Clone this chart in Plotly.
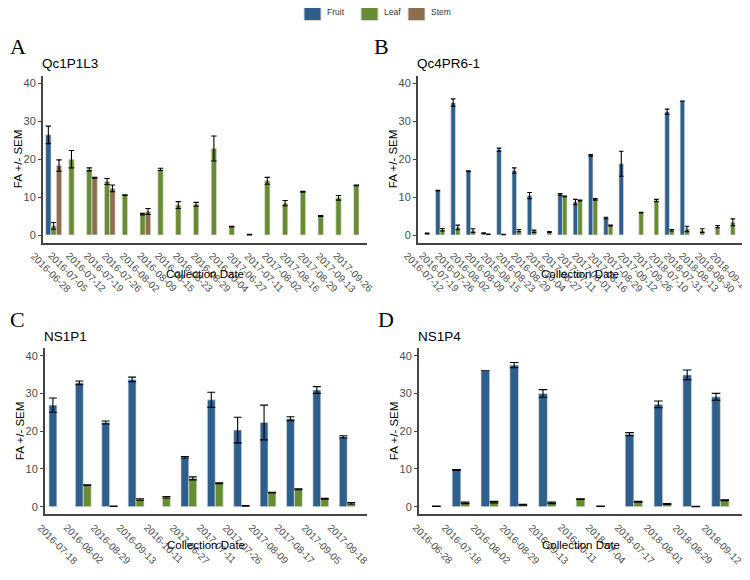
import plotly.graph_objects as go

# ---------------- data ----------------
cats_A = ["2016-06-28", "2016-07-05", "2016-07-12", "2016-07-19", "2016-07-26", "2016-08-02",
          "2016-08-09", "2016-08-15", "2016-08-23", "2016-08-29", "2016-10-04", "2017-06-27",
          "2017-07-11", "2017-08-02", "2017-08-16", "2017-08-29", "2017-09-13", "2017-09-26"]
fruit_A = [26.4] + [None] * 17
fruit_A_err = [2.3] + [None] * 17
leaf_A = [2.4, 20.0, 17.3, 14.1, 10.5, 5.5, 17.3, 7.9, 8.1, 22.8, 2.2, 0.1,
          14.3, 8.4, 11.4, 5.0, 9.8, 13.1]
leaf_A_err = [0.9, 2.3, 0.4, 0.8, 0.1, 0.2, 0.3, 0.9, 0.5, 3.3, 0.1, 0.1,
              0.9, 0.7, 0.1, 0.1, 0.6, 0.1]
stem_A = [18.3, None, 15.1, 12.3, None, 6.2] + [None] * 12
stem_A_err = [1.5, None, 0.1, 0.9, None, 0.8] + [None] * 12

cats_B = ["2016-07-12", "2016-07-19", "2016-07-26", "2016-08-02", "2016-08-09", "2016-08-15",
          "2016-08-23", "2016-08-29", "2016-10-04", "2017-06-27", "2017-07-11", "2017-08-01",
          "2017-08-16", "2017-08-29", "2017-09-12", "2017-09-26", "2018-07-10", "2018-07-31",
          "2018-08-13", "2018-08-30", "2018-09-12"]
fruit_B = [None, 11.7, 34.9, 16.8, 0.5, 22.5, 17.0, 10.4, None, 10.7, 8.7, 21.0,
           4.5, 18.8, None, None, 32.5, 35.3, None, None, None]
fruit_B_err = [None, 0.1, 1.0, 0.1, 0.1, 0.4, 0.7, 0.8, None, 0.2, 0.7, 0.2,
               0.2, 3.3, None, None, 0.7, 0.0, None, None, None]
leaf_B = [0.45, 1.4, 2.0, 1.15, 0.2, 0.15, 1.15, 1.0, 0.8, 10.2, 9.1, 9.4,
          2.5, None, 5.9, 9.1, 1.25, 1.6, 1.15, 2.2, 3.35]
leaf_B_err = [0.1, 0.3, 0.6, 0.5, 0.05, 0.05, 0.3, 0.3, 0.1, 0.1, 0.1, 0.2,
              0.1, None, 0.1, 0.3, 0.2, 0.7, 0.5, 0.3, 0.9]

cats_C = ["2016-07-18", "2016-08-02", "2016-08-29", "2016-09-13", "2016-10-11", "2017-06-27",
          "2017-07-11", "2017-07-26", "2017-08-09", "2017-08-17", "2017-09-05", "2017-09-18"]
fruit_C = [26.9, 32.8, 22.3, 33.7, None, 13.1, 28.3, 20.3, 22.3, 23.3, 30.9, 18.5]
fruit_C_err = [1.9, 0.5, 0.4, 0.6, None, 0.2, 2.0, 3.4, 4.6, 0.5, 0.9, 0.3]
leaf_C = [None, 5.7, 0.1, 1.9, 2.5, 7.5, 6.2, 0.2, 3.7, 4.6, 2.1, 0.9]
leaf_C_err = [None, 0.1, 0.05, 0.2, 0.2, 0.4, 0.1, 0.1, 0.1, 0.1, 0.1, 0.2]

cats_D = ["2016-06-28", "2016-07-18", "2016-08-02", "2016-08-29", "2016-09-13", "2016-10-11",
          "2018-07-04", "2018-07-17", "2018-08-01", "2018-08-29", "2018-09-12"]
fruit_D = [None, 9.7, 36.0, 37.5, 30.0, None, 0.1, 19.2, 27.1, 34.9, 29.1]
fruit_D_err = [None, 0.1, 0.0, 0.7, 1.0, None, 0.05, 0.4, 0.9, 1.3, 0.9]
leaf_D = [0.1, 1.0, 1.2, 0.5, 1.0, 2.0, None, 1.3, 0.7, 0.05, 1.7]
leaf_D_err = [0.05, 0.2, 0.2, 0.1, 0.2, 0.1, None, 0.1, 0.1, 0.05, 0.1]

panel_letters = ["A", "B", "C", "D"]
panel_titles = ["Qc1P1L3", "Qc4PR6-1", "NS1P1", "NS1P4"]
tissue_names = ["Fruit", "Leaf", "Stem"]
y_ticks = [0, 10, 20, 30, 40]

# ---------------- style ----------------
# The page body has an 8px default margin, so the figure is made 16px smaller and
# all positions below are given in window pixels, then converted.
PAGE_W, PAGE_H, BODY = 750, 580, 8
W, H = PAGE_W - 2 * BODY, PAGE_H - 2 * BODY


def X(px):
    return (px - BODY) / W


def Y(py):
    return 1 - (py - BODY) / H


COLORS = {"Fruit": "#2E5F8C", "Leaf": "#678C32", "Stem": "#8C6E4E"}
OFFSETS = {"Fruit": -0.45, "Leaf": -0.15, "Stem": 0.15}
SANS = "Liberation Sans, Arial, sans-serif"
SERIF = "Liberation Serif, Times New Roman, serif"
AXCOL = "#444444"
TICKCOL = "#4d4d4d"

# plot areas in window pixels: (left, right, top, bottom)
areas = [(43, 367, 75.7, 242.6), (418, 742, 75.7, 242.6),
         (45, 367, 348.1, 514.2), (419, 742, 348.1, 514.2)]
letter_x = [8, 372, 8, 376]

panels = [
    (cats_A, {"Fruit": (fruit_A, fruit_A_err), "Leaf": (leaf_A, leaf_A_err), "Stem": (stem_A, stem_A_err)}),
    (cats_B, {"Fruit": (fruit_B, fruit_B_err), "Leaf": (leaf_B, leaf_B_err)}),
    (cats_C, {"Fruit": (fruit_C, fruit_C_err), "Leaf": (leaf_C, leaf_C_err)}),
    (cats_D, {"Fruit": (fruit_D, fruit_D_err), "Leaf": (leaf_D, leaf_D_err)}),
]

fig = go.Figure()
layout = dict(template="none", width=W, height=H, margin=dict(l=0, r=0, t=0, b=0, pad=0),
              paper_bgcolor="white", plot_bgcolor="white", showlegend=False,
              barmode="overlay", font=dict(family=SANS))
annotations = []
shapes = []

for i, ((cats, series), (l, r, t, b)) in enumerate(zip(panels, areas)):
    k = "" if i == 0 else str(i + 1)
    xname, yname = "x" + k, "y" + k
    n = len(cats)
    unit_px = (r - l) / (n + 0.2)
    for name in tissue_names:
        if name not in series:
            continue
        vals, errs = series[name]
        fig.add_trace(go.Bar(
            x=cats, y=vals, name=name, xaxis=xname, yaxis=yname,
            offset=OFFSETS[name], width=0.3,
            marker=dict(color=COLORS[name], line=dict(color="rgba(225,225,225,0.85)", width=0.8)),
            error_y=dict(type="data", array=[e if e is not None else 0 for e in errs],
                         visible=True, color="black", thickness=1.1,
                         width=max(2, 0.3 * unit_px / 2)),
        ))
    layout["xaxis" + k] = dict(
        domain=[X(l), X(r)], anchor=yname, type="category", automargin=False,
        categoryorder="array", categoryarray=cats, range=[-0.6, n - 0.4],
        showline=True, linecolor=AXCOL, linewidth=2, ticks="", showgrid=False,
        zeroline=False, showticklabels=False,
    )
    layout["yaxis" + k] = dict(
        domain=[Y(b), Y(t)], anchor=xname, range=[-2, 42], automargin=False,
        tickvals=y_ticks, showline=True, linecolor=AXCOL, linewidth=2,
        ticks="outside", ticklen=3, tickcolor=AXCOL, tickwidth=1, showgrid=False, zeroline=False,
        tickfont=dict(family=SANS, size=11, color=TICKCOL),
    )
    # rotated category labels
    for c in cats:
        annotations.append(dict(text=c, xref=xname, yref="paper", x=c, y=Y(b + 5),
                                xanchor="center", yanchor="top", textangle=45, xshift=-3,
                                showarrow=False,
                                font=dict(family=SANS, size=10, color=TICKCOL)))
    # panel letter
    annotations.append(dict(text=panel_letters[i], xref="paper", yref="paper",
                            x=X(letter_x[i]), y=Y(t - 29),
                            xanchor="left", yanchor="middle", showarrow=False,
                            font=dict(family=SERIF, size=22, color="black")))
    # panel title
    annotations.append(dict(text=panel_titles[i], xref="paper", yref="paper",
                            x=X(l - 3), y=Y(t - 12), xanchor="left", yanchor="middle",
                            showarrow=False, font=dict(family=SANS, size=13.5, color="black")))
    # y title
    annotations.append(dict(text="FA +/- SEM", xref="paper", yref="paper",
                            x=X(l - 25), y=Y((t + b) / 2), textangle=-90,
                            xanchor="center", yanchor="middle", showarrow=False,
                            font=dict(family=SANS, size=11.5, color="black")))
    # x title
    annotations.append(dict(text="Collection Date", xref="paper", yref="paper",
                            x=X((l + r) / 2), y=Y(b + 31),
                            xanchor="center", yanchor="middle", showarrow=False,
                            font=dict(family=SANS, size=11.5, color="black")))

# legend (top centre)
leg_sq = [(304, "Fruit"), (361, "Leaf"), (408, "Stem")]
for x0, name in leg_sq:
    shapes.append(dict(type="rect", xref="paper", yref="paper",
                       x0=X(x0), x1=X(x0 + 17), y0=Y(20.5), y1=Y(3.5),
                       fillcolor=COLORS[name], line=dict(color="#d9d9d9", width=1)))
    annotations.append(dict(text=name, xref="paper", yref="paper",
                            x=X(x0 + 21), y=Y(12), xanchor="left", yanchor="middle",
                            showarrow=False, font=dict(family=SANS, size=8.5, color="#333333")))

layout["annotations"] = annotations
layout["shapes"] = shapes
fig.update_layout(**layout)
fig.write_html("out.html")
